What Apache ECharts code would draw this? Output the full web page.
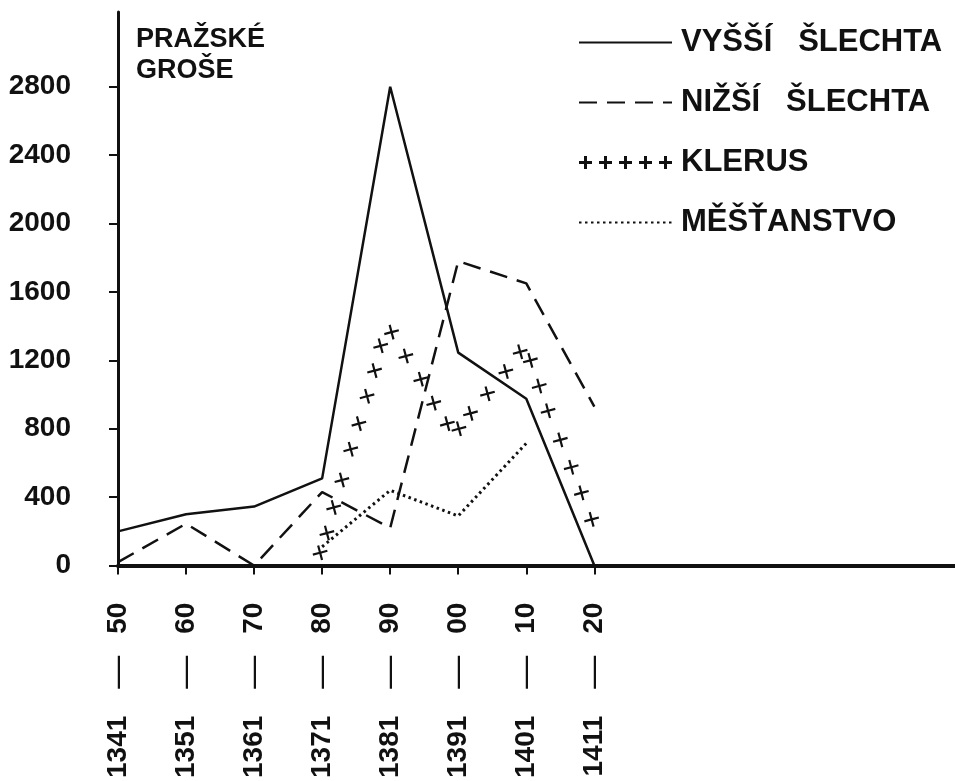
<!DOCTYPE html>
<html>
<head>
<meta charset="utf-8">
<script src="https://cdn.jsdelivr.net/npm/echarts@6/dist/echarts.min.js"></script>
<style>
  html, body { margin: 0; padding: 0; background: #fff; }
  #chart { width: 955px; height: 781px; }
</style>
</head>
<body>
<div id="chart"></div>
<script>
// decade ticks (start years) and the short end labels
const years = [1341, 1351, 1361, 1371, 1381, 1391, 1401, 1411];
const endLabels = ['50', '60', '70', '80', '90', '00', '10', '20'];
const yTicks = [0, 400, 800, 1200, 1600, 2000, 2400, 2800];

// values in pražské groše
const vyssiSlechta = [200, 300, 345, 510, 2800, 1245, 975, 0];
const nizsiSlechta = [20, 245, 0, 430, 220, 1780, 1650, 930];
const mestanstvoYears = [1371, 1381, 1391, 1401];
const mestanstvo = [110, 440, 290, 715];
const klerus = [
  [1370.7, 75], [1371.7, 190], [1372.7, 340], [1373.9, 500], [1375.2, 680],
  [1376.4, 830], [1377.6, 990], [1378.7, 1140], [1379.6, 1285], [1381.2, 1365],
  [1383.3, 1225], [1385.5, 1090], [1387.4, 950], [1389.4, 830], [1391.1, 800],
  [1392.8, 890], [1395.3, 1005], [1398.0, 1135], [1400.1, 1250], [1401.6, 1200],
  [1402.9, 1050], [1404.2, 905], [1406.0, 735], [1407.6, 575], [1409.1, 425],
  [1410.6, 270]
];

const font = '"Liberation Sans", Arial, sans-serif';
const plus = 'path://M7,0h2.4v7h7v2.4h-7v7h-2.4v-7h-7v-2.4h7z';
// five pluses for the legend sample
let plusRow = 'path://';
for (let i = 0; i < 5; i++) {
  const x = i * 20;
  plusRow += 'M' + (x + 5) + ',0h3v5h5v3h-5v5h-3v-5h-5v-3h5z';
}
const hideDot = { opacity: 0 };

const chart = echarts.init(document.getElementById('chart'));
chart.setOption({
  backgroundColor: '#fff',
  animation: false,
  title: {
    text: 'PRAŽSKÉ\nGROŠE',
    left: 136,
    top: 24,
    padding: 0,
    textStyle: { fontFamily: font, fontWeight: 'bold', fontSize: 27, lineHeight: 31, color: '#111' }
  },
  legend: {
    orient: 'vertical',
    left: 578,
    top: 27,
    itemWidth: 93,
    itemHeight: 13,
    itemGap: 29,
    padding: 0,
    textStyle: { fontFamily: font, fontWeight: 'bold', fontSize: 31, lineHeight: 30, color: '#111', padding: [0, 0, 0, 4] },
    data: [
      { name: 'VYŠŠÍ   ŠLECHTA', itemStyle: hideDot },
      { name: 'NIŽŠÍ   ŠLECHTA', itemStyle: hideDot },
      { name: 'KLERUS', icon: plusRow },
      { name: 'MĚŠŤANSTVO', itemStyle: hideDot }
    ]
  },
  grid: { left: 118, right: 0, top: 12, bottom: 213 },
  xAxis: {
    type: 'value',
    min: 1341,
    max: 1464,
    splitLine: { show: false },
    axisLine: { onZero: false, lineStyle: { color: '#111', width: 4 } },
    axisTick: { customValues: years, length: 9, lineStyle: { color: '#111', width: 2 } },
    axisLabel: {
      customValues: years,
      rotate: 90,
      margin: 37,
      color: '#111',
      fontFamily: font,
      fontWeight: 'bold',
      fontSize: 28,
      formatter: function (v) {
        const i = years.indexOf(v);
        return '{n|' + v + '}{d|—}{n|' + endLabels[i] + '}';
      },
      rich: {
        n: { fontFamily: font, fontWeight: 'bold', fontSize: 28, color: '#111' },
        d: { fontFamily: font, fontWeight: 'normal', fontSize: 33, color: '#111', padding: [0, 22, 0, 27] }
      }
    }
  },
  yAxis: {
    type: 'value',
    min: 0,
    max: 3237,
    splitLine: { show: false },
    axisLine: { lineStyle: { color: '#111', width: 3 } },
    axisTick: { customValues: yTicks, length: 9, lineStyle: { color: '#111', width: 2 } },
    axisLabel: {
      customValues: yTicks,
      margin: 47,
      color: '#111',
      fontFamily: font,
      fontWeight: 'bold',
      fontSize: 28,
      formatter: v => String(v)
    }
  },
  series: [
    {
      name: 'VYŠŠÍ   ŠLECHTA',
      type: 'line',
      symbol: 'none',
      data: years.map((y, i) => [y, vyssiSlechta[i]]),
      lineStyle: { color: '#111', width: 2.5 },
      itemStyle: { color: '#111' }
    },
    {
      name: 'NIŽŠÍ   ŠLECHTA',
      type: 'line',
      symbol: 'none',
      data: years.map((y, i) => [y, nizsiSlechta[i]]),
      lineStyle: { color: '#111', width: 2.5, type: [18, 10] },
      itemStyle: { color: '#111' }
    },
    {
      name: 'KLERUS',
      type: 'scatter',
      symbol: plus,
      symbolSize: 15,
      symbolRotate: 15,
      data: klerus,
      itemStyle: { color: '#111', opacity: 1 }
    },
    {
      name: 'MĚŠŤANSTVO',
      type: 'line',
      symbol: 'none',
      data: mestanstvoYears.map((y, i) => [y, mestanstvo[i]]),
      lineStyle: { color: '#111', width: 3, type: [2.5, 3.5] },
      itemStyle: { color: '#111' }
    }
  ]
});
</script>
</body>
</html>
